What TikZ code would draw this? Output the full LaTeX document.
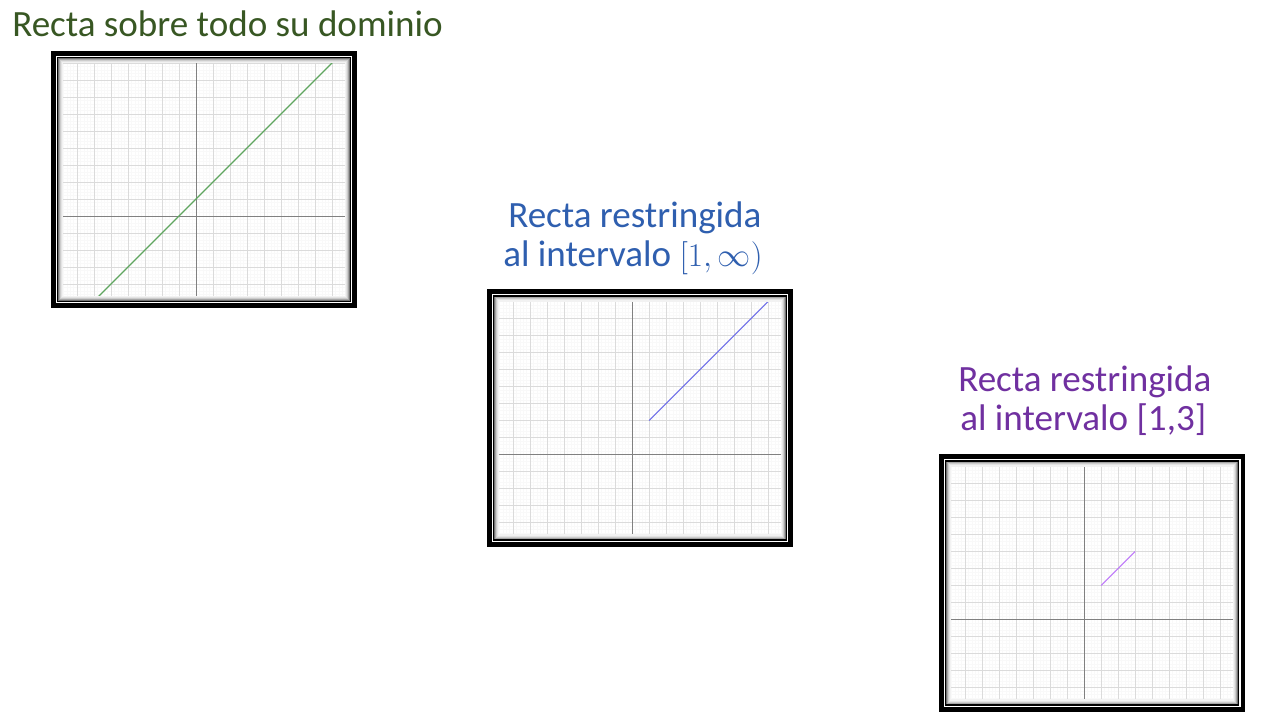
\documentclass[tikz,border=0pt]{standalone}
\usepackage{fontspec}
\setmainfont{Carlito}
\definecolor{titleA}{RGB}{56,87,35}
\definecolor{titleB}{RGB}{47,95,175}
\definecolor{titleC}{RGB}{112,48,160}
\definecolor{lineA}{RGB}{95,165,95}
\definecolor{lineB}{RGB}{110,110,232}
\definecolor{lineC}{RGB}{190,120,250}
\begin{document}
\begin{tikzpicture}[x=0.75pt,y=-0.75pt,
  minorgrid/.style={draw=black!2.5, line width=0.3pt},
  majorgrid/.style={draw=black!14, line width=0.6pt},
  axisline/.style={draw=black!50, line width=0.7pt},
  graphline/.style={line width=0.8pt},
  titletext/.style={font=\fontsize{27.8}{29.25}\selectfont, inner sep=0pt, align=left, anchor=base west},
  outerborder/.style={draw=black, line width=3.4pt},
  innerborder/.style={draw=black, line width=0.9pt}]
\useasboundingbox (0,0) rectangle (1280,720);
\fill[white] (0,0) rectangle (1280,720);

\node[titletext, text=titleA] (t1) at (12,36.7) {Recta sobre todo su dominio};
\node[titletext, text=titleB] (t2) at (503,266.7) {\hspace*{3.75pt}Recta restringida\\al intervalo $[1,\infty)$};
\node[titletext, text=titleC] (t3) at (958,430.7) {Recta restringida\\\hspace*{1.5pt}al intervalo [1,3]};

\foreach \fx/\fy/\name/\col/\xa/\xb in {51/51/gone/lineA/-6/9, 487/289.5/gtwo/lineB/1/9, 939/454.5/gthree/lineC/1/3} {
  \begin{scope}[shift={(\fx,\fy)}]
    \coordinate (\name-nw) at (0,0);
    \coordinate (\name-se) at (306,257);
    \fill[white] (7,7) rectangle (299,250);
    \begin{scope}
      \clip (7,7) rectangle (299,250);
      \foreach \i in {-45,...,45} \draw[minorgrid] ({145+3.4*\i},0) -- ({145+3.4*\i},257);
      \foreach \j in {-50,...,27} \draw[minorgrid] (0,{165+3.4*\j}) -- (306,{165+3.4*\j});
      \foreach \i in {-9,...,9} \draw[majorgrid] ({145+17*\i},0) -- ({145+17*\i},257);
      \foreach \j in {-10,...,6} \draw[majorgrid] (0,{165+17*\j}) -- (306,{165+17*\j});
      \draw[axisline] (145,0) -- (145,257);
      \draw[axisline] (0,165) -- (306,165);
      \begin{scope}[shift={(145,165)}, x=12.75pt, y=12.75pt]
        \coordinate (\name-a) at ({\xa},{\xa+1});
        \coordinate (\name-b) at ({\xb},{\xb+1});
        \draw[graphline, draw=\col] (\name-a) -- (\name-b);
      \end{scope}
    \end{scope}
    \foreach \k/\op in {0/55,1/35,2/20,3/11,4/5}
      \draw[draw=black!\op, line width=0.8pt] ({7.5+\k},{7.5+\k}) rectangle ({298.5-\k},{249.5-\k});
    \draw[innerborder] (6.5,6.5) rectangle (299.5,250.5);
    \draw[outerborder] (2.25,2.25) rectangle (303.75,254.75);
  \end{scope}
}
\end{tikzpicture}
\end{document}
